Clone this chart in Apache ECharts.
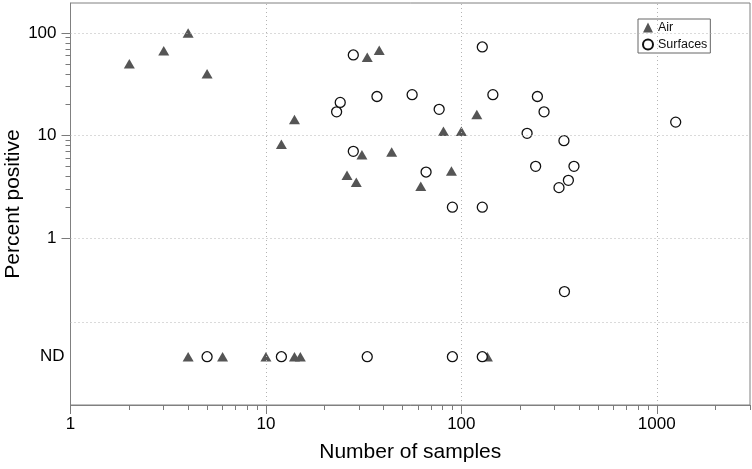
<!DOCTYPE html>
<html>
<head>
<meta charset="utf-8">
<script src="https://cdn.jsdelivr.net/npm/echarts@6/dist/echarts.min.js"></script>
<style>html,body{margin:0;padding:0;background:#fff}#c{width:752px;height:469px}</style>
</head>
<body>
<div id="c"></div>
<script>
// ---- data ----
const airX = [2, 3, 4, 5, 12, 14, 26, 29, 31, 33, 38, 44, 62, 81, 89, 100, 120, 4, 6, 10, 14, 15, 136];
const airY = [50, 67, 100, 40, 8.2, 14.3, 4.1, 3.5, 6.5, 58, 68, 6.9, 3.2, 11, 4.5, 11, 16, 'ND', 'ND', 'ND', 'ND', 'ND', 'ND'];
const surfX = [23, 24, 28, 28, 37, 56, 66, 77, 90, 128, 128, 145, 217, 240, 245, 265, 316, 335, 337, 353, 377, 1250, 5, 12, 33, 90, 128];
const surfY = [17, 21, 61, 7, 24, 25, 4.4, 18, 2, 73, 2, 25, 10.5, 5, 24, 17, 3.1, 8.9, 0.3, 3.65, 5, 13.5, 'ND', 'ND', 'ND', 'ND', 'ND'];
const xMajor = [1, 10, 100, 1000];
const xMinor = [2,3,4,5,6,7,8,9,20,30,40,50,60,70,80,90,200,300,400,500,600,700,800,900,2000,3000];
const yMajor = [1, 10, 100];
const yMinor = [2,3,4,5,6,7,8,9,20,30,40,50,60,70,80,90];
const ND_POS = 0.0695;   // where "ND" sits on the log scale
const SEP_POS = 0.148;   // dotted separator between ND band and values
const X_MIN = 1, X_MAX = 3000, Y_MIN = 0.0235, Y_MAX = 196;

const toPts = (xs, ys) => xs.map((x, i) => [x, ys[i] === 'ND' ? ND_POS : ys[i]]);

const FONT = 'Liberation Sans';
const AXIS_COLOR = '#808080';
const TICK_COLOR = '#7a7a7a';
const GRID_COLOR = '#b4b4b4';
const fmt = v => String(Math.round(v));
const G = {left: 70.5, right: 2, top: 3, bottom: 64, outerBoundsMode: 'none', containLabel: false};
const hiddenAxis = (type, min, max, gi) => ({type, min, max, gridIndex: gi, show: false,
  axisLine: {show: false}, axisTick: {show: false}, axisLabel: {show: false}, splitLine: {show: false}});

const chart = echarts.init(document.getElementById('c'), null, {renderer: 'canvas'});
chart.setOption({
  animation: false,
  backgroundColor: '#fff',
  textStyle: {fontFamily: FONT},
  grid: [
    Object.assign({show: true, borderColor: AXIS_COLOR, borderWidth: 1, backgroundColor: 'transparent'}, G),
    Object.assign({show: false}, G),
    Object.assign({show: false}, G)
  ],
  legend: {
    data: ['Air', 'Surfaces'], orient: 'vertical', left: 638, top: 19,
    borderColor: '#666', borderWidth: 1, padding: [2, 3, 2, 4], itemGap: 4,
    itemWidth: 10, itemHeight: 10, textStyle: {fontFamily: FONT, fontSize: 12.5, color: '#111'}
  },
  xAxis: [
    {type: 'log', min: X_MIN, max: X_MAX, position: 'bottom', gridIndex: 0,
     name: 'Number of samples', nameLocation: 'middle', nameGap: 37, nameMoveOverlap: false,
     nameTextStyle: {fontFamily: FONT, fontSize: 21, color: '#000'},
     axisLine: {show: true, lineStyle: {color: AXIS_COLOR, width: 1}},
     axisTick: {show: true, customValues: xMajor, length: 9, lineStyle: {color: TICK_COLOR, width: 1}},
     axisLabel: {customValues: xMajor, formatter: fmt, fontFamily: FONT, fontSize: 17, color: '#000', margin: 11},
     splitLine: {show: false}, minorTick: {show: false}},
    {type: 'log', min: X_MIN, max: X_MAX, position: 'bottom', gridIndex: 1,
     axisLine: {show: false},
     axisTick: {show: true, customValues: xMinor, length: 5, lineStyle: {color: TICK_COLOR, width: 1}},
     axisLabel: {show: false}, splitLine: {show: false}},
    hiddenAxis('log', X_MIN, X_MAX, 2)
  ],
  yAxis: [
    {type: 'log', min: Y_MIN, max: Y_MAX, position: 'left', gridIndex: 0,
     name: 'Percent positive', nameLocation: 'middle', nameGap: 47, nameMoveOverlap: false,
     nameTextStyle: {fontFamily: FONT, fontSize: 21, color: '#000'},
     axisLine: {show: true, lineStyle: {color: AXIS_COLOR, width: 1}},
     axisTick: {show: true, customValues: yMajor, length: 9, lineStyle: {color: TICK_COLOR, width: 1}},
     axisLabel: {customValues: yMajor, formatter: fmt, fontFamily: FONT, fontSize: 17, color: '#000', margin: 14},
     splitLine: {show: false}},
    {type: 'log', min: Y_MIN, max: Y_MAX, position: 'left', gridIndex: 1,
     axisLine: {show: false},
     axisTick: {show: true, customValues: yMinor, length: 5, lineStyle: {color: TICK_COLOR, width: 1}},
     axisLabel: {show: false}, splitLine: {show: false}},
    {type: 'log', min: Y_MIN, max: Y_MAX, position: 'left', gridIndex: 2,
     axisLine: {show: false},
     axisTick: {show: false},
     axisLabel: {customValues: [ND_POS], formatter: () => 'ND', fontFamily: FONT, fontSize: 17, color: '#000', margin: 6},
     splitLine: {show: false}}
  ],
  series: [
    {type: 'scatter', name: 'grid', data: [], z: 1, silent: true, xAxisIndex: 0, yAxisIndex: 0,
     markLine: {silent: true, symbol: 'none', label: {show: false},
       lineStyle: {color: GRID_COLOR, type: [1, 3], width: 1},
       data: xMajor.slice(1).map(v => ({xAxis: v})).concat(yMajor.map(v => ({yAxis: v}))).concat([{yAxis: SEP_POS}])}},
    {type: 'scatter', name: 'Air', z: 3, xAxisIndex: 0, yAxisIndex: 0, data: toPts(airX, airY),
     symbol: 'triangle', symbolSize: [11, 9.5],
     itemStyle: {color: '#555', opacity: 1}},
    {type: 'scatter', name: 'Surfaces', z: 4, xAxisIndex: 0, yAxisIndex: 0, data: toPts(surfX, surfY),
     symbol: 'circle', symbolSize: 10,
     itemStyle: {color: '#fff', borderColor: '#111', borderWidth: 1.3, opacity: 1}}
  ]
});
</script>
</body>
</html>
